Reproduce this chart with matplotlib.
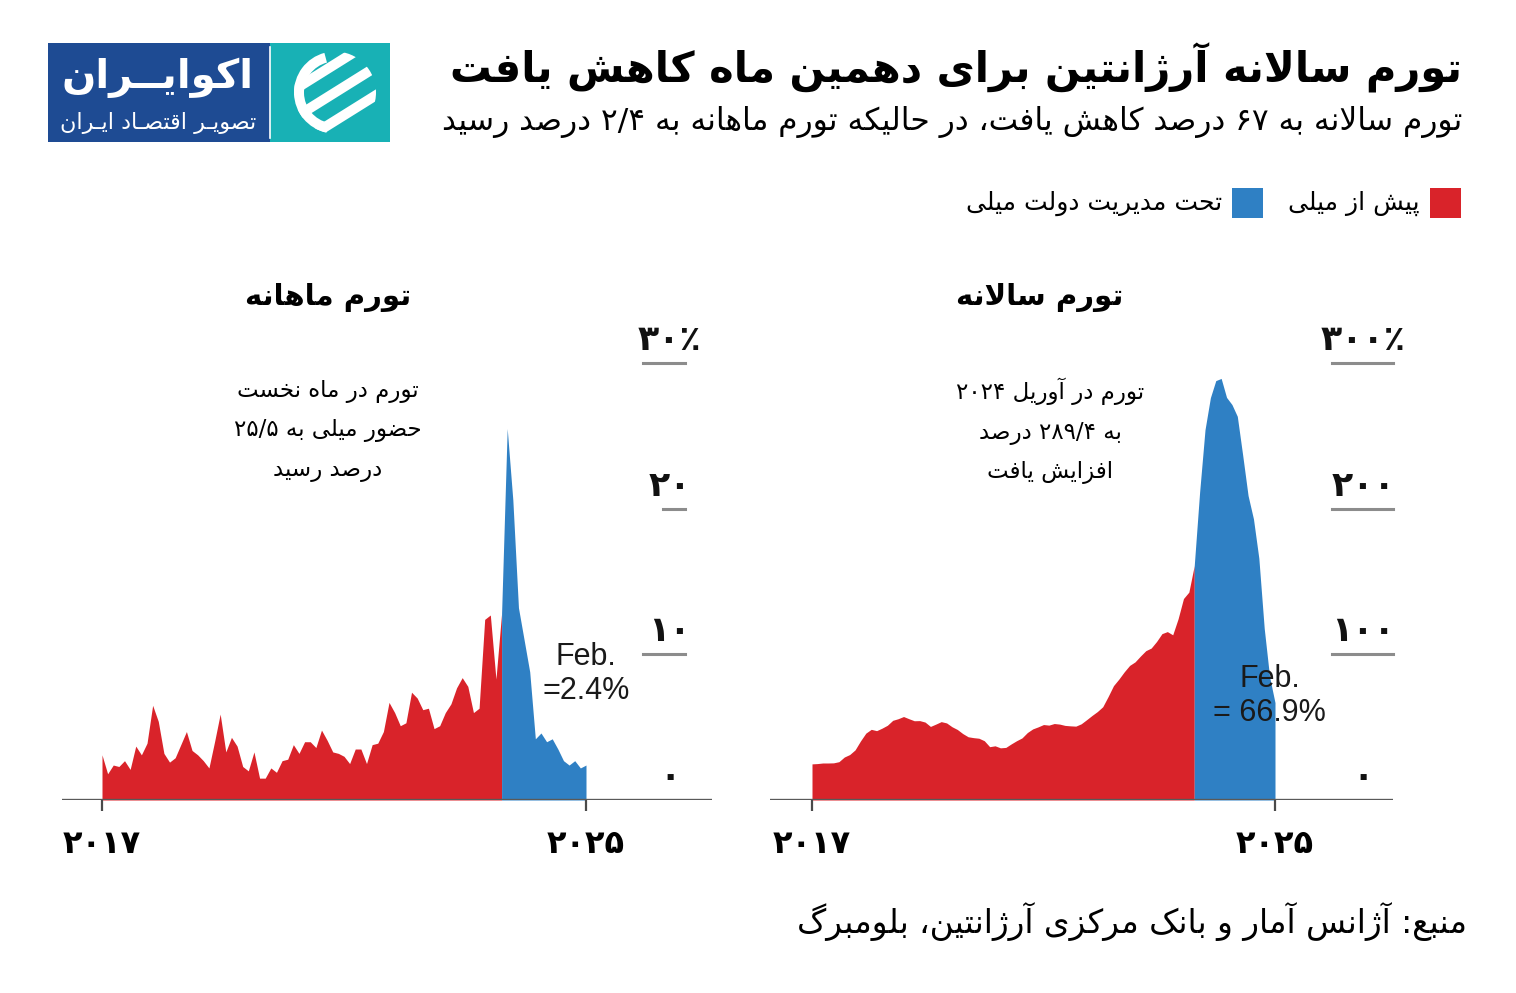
import re
import numpy as np
import matplotlib
matplotlib.use("Agg")
import matplotlib.pyplot as plt
from matplotlib.patches import Rectangle, Wedge, Polygon, Circle
from matplotlib.transforms import offset_copy

plt.rcParams['font.family'] = ['DejaVu Sans']

# ---- data: Dec 2017 .. Feb 2025, Argentina CPI (%) ----
monthly = [3.1,
           1.8, 2.4, 2.3, 2.7, 2.1, 3.7, 3.1, 3.9, 6.5, 5.4, 3.2, 2.6,
           2.9, 3.8, 4.7, 3.4, 3.1, 2.7, 2.2, 4.0, 5.9, 3.3, 4.3, 3.7,
           2.3, 2.0, 3.3, 1.5, 1.5, 2.2, 1.9, 2.7, 2.8, 3.8, 3.2, 4.0,
           4.0, 3.6, 4.8, 4.1, 3.3, 3.2, 3.0, 2.5, 3.5, 3.5, 2.5, 3.8,
           3.9, 4.7, 6.7, 6.0, 5.1, 5.3, 7.4, 7.0, 6.2, 6.3, 4.9, 5.1,
           6.0, 6.6, 7.7, 8.4, 7.8, 6.0, 6.3, 12.4, 12.7, 8.3, 12.8, 25.5,
           20.6, 13.2, 11.0, 8.8, 4.2, 4.6, 4.0, 4.2, 3.5, 2.7, 2.4, 2.7,
           2.2, 2.4]
annual = [24.8,
          25.0, 25.4, 25.4, 25.5, 26.3, 29.5, 31.2, 34.4, 40.5, 45.9, 48.5, 47.6,
          49.3, 51.3, 54.7, 55.8, 57.3, 55.8, 54.4, 54.5, 53.5, 50.5, 52.1, 53.8,
          52.9, 50.3, 48.4, 45.6, 43.4, 42.8, 42.4, 40.7, 36.6, 37.2, 35.8, 36.1,
          38.5, 40.7, 42.6, 46.3, 48.8, 50.2, 51.8, 51.4, 52.5, 52.1, 51.2, 50.9,
          50.7, 52.3, 55.1, 58.0, 60.7, 64.0, 71.0, 78.5, 83.0, 88.0, 92.4, 94.8,
          98.8, 102.5, 104.3, 108.8, 114.2, 115.6, 113.4, 124.4, 138.3, 142.7, 160.9, 211.4,
          254.2, 276.2, 287.9, 289.4, 276.4, 271.5, 263.4, 236.7, 209.0, 193.0, 166.0, 117.8,
          84.5, 66.9]
milei_from = 71          # index (Nov 2023) where the blue part starts
year_labels = ['2017', '2025']
monthly_ticks = [0, 10, 20, 30]
annual_ticks = [0, 100, 200, 300]
monthly_last = 'Feb.\n=2.4%'
annual_last = 'Feb.\n= 66.9%'

title = 'تورم سالانه آرژانتین برای دهمین ماه کاهش یافت'
subtitle = 'تورم سالانه به 67 درصد کاهش یافت، در حالیکه تورم ماهانه به 2/4 درصد رسید'
legend_labels = ['پیش از میلی', 'تحت مدیریت دولت میلی']
panel_titles = ['تورم ماهانه', 'تورم سالانه']
notes = ['تورم در ماه نخست\nحضور میلی به 25/5\nدرصد رسید',
         'تورم در آوریل 2024\nبه 289/4 درصد\nافزایش یافت']
source = 'منبع: آژانس آمار و بانک مرکزی آرژانتین، بلومبرگ'

red = '#d9232a'
blue = '#2f80c4'

# ---- tiny Persian shaper (no arabic_reshaper available) ----
FOUR = {'ب': 0xFE8F, 'ت': 0xFE95, 'ث': 0xFE99, 'ج': 0xFE9D, 'ح': 0xFEA1, 'خ': 0xFEA5,
        'س': 0xFEB1, 'ش': 0xFEB5, 'ص': 0xFEB9, 'ض': 0xFEBD, 'ط': 0xFEC1, 'ظ': 0xFEC5,
        'ع': 0xFEC9, 'غ': 0xFECD, 'ف': 0xFED1, 'ق': 0xFED5, 'ل': 0xFEDD, 'م': 0xFEE1,
        'ن': 0xFEE5, 'ه': 0xFEE9, '\u067E': 0xFB56, '\u0686': 0xFB7A, '\u06A9': 0xFB8E,
        '\u06AF': 0xFB92, '\u06CC': 0xFBFC}
TWO = {'ا': 0xFE8D, 'آ': 0xFE81, 'د': 0xFEA9, 'ذ': 0xFEAB, 'ر': 0xFEAD, 'ز': 0xFEAF,
       '\u0698': 0xFB8A, 'و': 0xFEED}
LAM_ALEF = {'ا': 0xFEFB, 'آ': 0xFEF5}
TATWEEL = '\u0640'


def links_next(ch):
    return ch in FOUR or ch == TATWEEL


def joinable(ch):
    return ch in FOUR or ch in TWO or ch == TATWEEL


def shape(text):
    text = text.replace('\u0643', '\u06A9').replace('\u064A', '\u06CC').replace('\u0649', '\u06CC')
    out = []
    i = 0
    while i < len(text):
        c = text[i]
        if not joinable(c) or c == TATWEEL:
            out.append(c)
            i += 1
            continue
        prev = text[i - 1] if i > 0 else ''
        nxt = text[i + 1] if i + 1 < len(text) else ''
        lp = links_next(prev)
        if c == 'ل' and nxt in LAM_ALEF:
            out.append(chr(LAM_ALEF[nxt] + (1 if lp else 0)))
            i += 2
            continue
        if c in TWO:
            out.append(chr(TWO[c] + (1 if lp else 0)))
        else:
            ln = joinable(nxt)
            k = 3 if (lp and ln) else 1 if lp else 2 if ln else 0
            out.append(chr(FOUR[c] + k))
        i += 1
    return ''.join(out)


DIGITS = str.maketrans('0123456789', ''.join(chr(0x06F0 + d) for d in range(10)))


def fa(text):
    lines = []
    for line in text.split('\n'):
        s = shape(line.translate(DIGITS))[::-1]
        s = re.sub(r'[\u06F0-\u06F9]+(?:/[\u06F0-\u06F9]+)*', lambda m: m.group(0)[::-1], s)
        lines.append(s)
    return '\n'.join(lines)


def fa_num(v, pct=False):
    return str(v).translate(DIGITS) + ('\u066A' if pct else '')


W, H = 1516, 993
fig = plt.figure(figsize=(W / 100, H / 100), dpi=100, facecolor='white')


def box(x0, y0, x1, y1):
    return [x0 / W, 1 - y1 / H, (x1 - x0) / W, (y1 - y0) / H]


def fx(x):
    return x / W


def fy(y):
    return 1 - y / H


# ---- header ----
fig.text(fx(1462), fy(68), fa(title), ha='right', va='center', fontsize=30, fontweight='bold')
fig.text(fx(1462), fy(122), fa(subtitle), ha='right', va='center', fontsize=22.5)

# legend
for (x0, col, lab) in [(1430, red, legend_labels[0]), (1232, blue, legend_labels[1])]:
    fig.add_artist(Rectangle((fx(x0), fy(218)), 31 / W, 30 / H, transform=fig.transFigure,
                             color=col, lw=0))
    fig.text(fx(x0 - 10), fy(203), fa(lab), ha='right', va='center', fontsize=18)

# logo
lax = fig.add_axes(box(48, 43, 390, 142))
lax.set_xlim(0, 342)
lax.set_ylim(0, 99)
lax.axis('off')
lax.add_patch(Rectangle((0, 0), 222, 99, color='#1e4b93', lw=0))
lax.add_patch(Rectangle((222, 0), 120, 99, color='#18b1b5', lw=0))
lax.plot([221.5, 221.5], [4, 95], color='white', lw=1.2)
lax.text(110, 64, fa('اکوایــران'), color='white', ha='center', va='center',
         fontsize=29, fontweight='bold')
lax.text(110, 19, fa('تصویـر اقتصـاد ایـران'), color='white', ha='center', va='center',
         fontsize=16)
cx, cy, R = 287, 49.5, 41
clip = Circle((cx, cy), R, transform=lax.transData)
lax.add_patch(Wedge((cx, cy), R, 105, 258, width=10, color='white', lw=0))
ang = np.deg2rad(32)
d = np.array([np.cos(ang), np.sin(ang)])
nrm = np.array([-np.sin(ang), np.cos(ang)])
for k in (-1, 0, 1):
    c0 = np.array([cx, cy]) + nrm * (k * 24)
    pts = [c0 - d * 70 - nrm * 5, c0 + d * 70 - nrm * 5,
           c0 + d * 70 + nrm * 5, c0 - d * 70 + nrm * 5]
    band = Polygon(pts, closed=True, color='white', lw=0)
    lax.add_patch(band)
    band.set_clip_path(clip)


# ---- charts ----
def draw_panel(px, vals, ticks, tick_lines, lab_x, last_text, last_at, ptitle, note, note_x):
    x0, x1, xa, xb = px              # axes left/right and first/last data pixel
    top_val_px = 363
    ax = fig.add_axes(box(x0, 300, x1, 800))
    x = np.arange(len(vals))
    n = len(vals) - 1
    per = (xb - xa) / n
    ax.set_xlim(-(xa - x0) / per, n + (x1 - xb) / per)
    ax.set_ylim(0, ticks[-1] * 500 / (800 - top_val_px))
    v = np.array(vals)
    ax.fill_between(x[:milei_from + 1], v[:milei_from + 1], color=red, lw=0)
    ax.fill_between(x[milei_from:], v[milei_from:], color=blue, lw=0)
    for s in ax.spines.values():
        s.set_visible(False)
    ax.axhline(0, color='#595959', lw=2.4, zorder=4)
    ax.set_xticks([0, n])
    ax.set_xticklabels([fa_num(y) for y in year_labels], fontsize=23, fontweight='bold')
    ax.tick_params(axis='x', length=8, width=1.6, color='#4a4a4a', pad=13)
    ax.set_yticks([])
    ytr = ax.get_yaxis_transform()
    lab_tr = offset_copy(ytr, fig=fig, y=13, units='dots')
    for t, (lx0, lx1) in zip(ticks, tick_lines):
        if t > 0:
            ax.plot([lx0, lx1], [t, t], color='#8c8c8c', lw=2.2, transform=ytr, clip_on=False)
        ax.text(lab_x, t, fa_num(t, pct=(t == ticks[-1])), transform=lab_tr, ha='center',
                va='baseline', fontsize=25, fontweight='bold', color='#111111')
    ax.text(last_at[0], last_at[1], last_text, ha='center', va='center', fontsize=22,
            family='Liberation Sans', color='#1a1a1a', linespacing=1.2)
    fig.text(fx(note_x[0]), fy(297), fa(ptitle), ha='center', va='center', fontsize=21,
             fontweight='bold')
    fig.text(fx(note_x[1]), fy(431), fa(note), ha='center', va='center', fontsize=16.5,
             linespacing=1.85)
    return ax


draw_panel((62, 712, 102, 586), monthly, monthly_ticks,
           [(0, 0), (0.894, 0.958), (0.925, 0.958), (0.894, 0.958)], 0.935,
           monthly_last, (86, 8.65), panel_titles[0], notes[0], (328, 328))
draw_panel((770, 1393, 812, 1275), annual, annual_ticks,
           [(0, 0), (0.902, 1.0), (0.902, 1.0), (0.902, 1.0)], 0.952,
           annual_last, (85, 71.4), panel_titles[1], notes[1], (1040, 1050))

fig.text(fx(1467), fy(922), fa(source), ha='right', va='center', fontsize=23.5)

fig.savefig('out.png', dpi=100, facecolor='white')
